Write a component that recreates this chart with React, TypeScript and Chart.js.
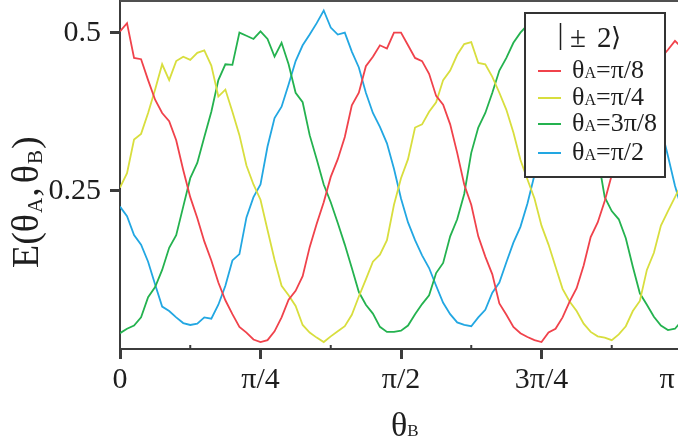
import React, { useEffect, useRef } from "react";
import { Chart, registerables } from "chart.js";

Chart.register(...registerables);

// θB sampled in steps of π/80 over [0, π]
const SAMPLE_COUNT = 81;
const thetaB: number[] = Array.from({ length: SAMPLE_COUNT }, (_, k) => (k * Math.PI) / (SAMPLE_COUNT - 1));

const seriesNames = ["π/8", "π/4", "3π/8", "π/2"];
const seriesColors = ["#f0424b", "#d8de3e", "#24b24f", "#22a7e2"];

const valuesPi8 = [
  0.502, 0.515, 0.46, 0.458, 0.425, 0.394, 0.373, 0.36, 0.33, 0.283,
  0.24, 0.207, 0.17, 0.14, 0.105, 0.077, 0.055, 0.035, 0.026, 0.015,
  0.011, 0.014, 0.028, 0.05, 0.078, 0.092, 0.115, 0.161, 0.198, 0.232,
  0.272, 0.3, 0.335, 0.385, 0.405, 0.447, 0.462, 0.48, 0.475, 0.5,
  0.5, 0.48, 0.46, 0.455, 0.435, 0.4, 0.386, 0.355, 0.31, 0.26,
  0.228, 0.178, 0.146, 0.118, 0.072, 0.054, 0.035, 0.025, 0.019, 0.014,
  0.011, 0.026, 0.032, 0.05, 0.075, 0.096, 0.132, 0.177, 0.2, 0.234,
  0.275, 0.305, 0.335, 0.37, 0.4, 0.43, 0.45, 0.46, 0.473, 0.487,
  0.476,
];

const valuesPi4 = [
  0.255, 0.278, 0.331, 0.34, 0.373, 0.41, 0.45, 0.425, 0.455, 0.462,
  0.457, 0.468, 0.472, 0.448, 0.399, 0.41, 0.375, 0.338, 0.29, 0.26,
  0.236, 0.188, 0.141, 0.1, 0.085, 0.068, 0.038, 0.026, 0.018, 0.011,
  0.02, 0.028, 0.036, 0.054, 0.083, 0.11, 0.138, 0.149, 0.172, 0.228,
  0.27, 0.3, 0.35, 0.355, 0.375, 0.39, 0.425, 0.44, 0.465, 0.482,
  0.485, 0.452, 0.45, 0.43, 0.405, 0.378, 0.342, 0.299, 0.268, 0.238,
  0.195, 0.165, 0.13, 0.095, 0.075, 0.06, 0.04, 0.027, 0.02, 0.018,
  0.014, 0.023, 0.036, 0.06, 0.076, 0.125, 0.152, 0.195, 0.218, 0.24,
  0.262,
];

const values3Pi8 = [
  0.025, 0.032, 0.037, 0.05, 0.082, 0.098, 0.125, 0.16, 0.18, 0.225,
  0.27, 0.294, 0.335, 0.375, 0.425, 0.45, 0.449, 0.5, 0.495, 0.49,
  0.502, 0.49, 0.462, 0.484, 0.45, 0.405, 0.39, 0.338, 0.3, 0.26,
  0.232, 0.199, 0.165, 0.128, 0.09, 0.07, 0.056, 0.035, 0.027, 0.027,
  0.029, 0.037, 0.055, 0.071, 0.085, 0.12, 0.136, 0.178, 0.205, 0.245,
  0.31, 0.35, 0.373, 0.405, 0.44, 0.46, 0.484, 0.5, 0.512, 0.52,
  0.515, 0.505, 0.49, 0.47, 0.445, 0.415, 0.38, 0.345, 0.305, 0.24,
  0.218, 0.205, 0.175, 0.13, 0.088, 0.07, 0.051, 0.037, 0.03, 0.032,
  0.045,
];

const valuesPi2 = [
  0.225, 0.21, 0.18, 0.165, 0.138, 0.102, 0.067, 0.06, 0.05, 0.041,
  0.038, 0.04, 0.05, 0.048, 0.07, 0.1, 0.14, 0.15, 0.208, 0.24,
  0.26, 0.32, 0.365, 0.383, 0.418, 0.455, 0.48, 0.497, 0.515, 0.535,
  0.508, 0.497, 0.5, 0.47, 0.445, 0.405, 0.373, 0.351, 0.325, 0.285,
  0.238, 0.2, 0.172, 0.148, 0.128, 0.1, 0.073, 0.055, 0.042, 0.038,
  0.036, 0.05, 0.062, 0.089, 0.105, 0.137, 0.168, 0.193, 0.23, 0.275,
  0.31, 0.35, 0.39, 0.425, 0.46, 0.48, 0.5, 0.52, 0.53, 0.52,
  0.51, 0.5, 0.48, 0.46, 0.44, 0.41, 0.38, 0.35, 0.305, 0.258,
  0.22,
];

const seriesValues = [valuesPi8, valuesPi4, values3Pi8, valuesPi2];

const xTickValues = [0, Math.PI / 4, Math.PI / 2, (3 * Math.PI) / 4, Math.PI];
const xTickLabels = ["0", "π/4", "π/2", "3π/4", "π\u2002\u2002"];
const xMinorTickValues = [Math.PI / 8, (3 * Math.PI) / 8, (5 * Math.PI) / 8, (7 * Math.PI) / 8];
const yTickValues = [0.25, 0.5];
const yTickLabels = ["0.25", "0.5"];
const legendTitle = ["|", "±", "2", "⟩"];

const SERIF = "'Liberation Serif', 'Times New Roman', 'DejaVu Serif', serif";
const AXIS_COLOR = "#3c3c3c";
const TEXT_COLOR = "#1e1e1e";

type Run = { t: string; size: number; dy?: number; gap?: number };

function drawRuns(ctx: CanvasRenderingContext2D, runs: Run[], x: number, y: number) {
  let cx = x;
  for (const r of runs) {
    ctx.font = `${r.size}px ${SERIF}`;
    ctx.fillText(r.t, cx, y + (r.dy || 0));
    cx += ctx.measureText(r.t).width + (r.gap || 0);
  }
}

const decorPlugin = {
  id: "decor",
  afterDraw(chart: any) {
    const { ctx, chartArea: a, scales } = chart;
    ctx.save();

    // top frame line
    ctx.strokeStyle = "#505050";
    ctx.lineWidth = 2;
    ctx.beginPath();
    ctx.moveTo(a.left, a.top);
    ctx.lineTo(a.right + 10, a.top);
    ctx.stroke();

    // minor inward ticks on x axis
    ctx.strokeStyle = AXIS_COLOR;
    ctx.lineWidth = 2;
    for (const v of xMinorTickValues) {
      const px = scales.x.getPixelForValue(v);
      ctx.beginPath();
      ctx.moveTo(px, a.bottom);
      ctx.lineTo(px, a.bottom - 4);
      ctx.stroke();
    }

    ctx.fillStyle = TEXT_COLOR;
    ctx.textBaseline = "alphabetic";
    ctx.textAlign = "left";

    // y-axis title E(θA,θB), rotated
    ctx.save();
    ctx.translate(38, 268);
    ctx.rotate(-Math.PI / 2);
    drawRuns(
      ctx,
      [
        { t: "E(θ", size: 38, gap: 1 },
        { t: "A", size: 21, dy: 4, gap: 1 },
        { t: ",", size: 38, gap: 4 },
        { t: "θ", size: 38, gap: 1 },
        { t: "B", size: 21, dy: 4, gap: 1 },
        { t: ")", size: 38 },
      ],
      0,
      0
    );
    ctx.restore();

    // x-axis title θB
    drawRuns(
      ctx,
      [
        { t: "θ", size: 34 },
        { t: "B", size: 17 },
      ],
      391,
      436
    );

    // legend box
    const lx = 525, ly = 13, lw = 140, lh = 164;
    ctx.fillStyle = "#ffffff";
    ctx.fillRect(lx, ly, lw, lh);
    ctx.strokeStyle = "#333333";
    ctx.lineWidth = 2;
    ctx.strokeRect(lx, ly, lw, lh);

    // legend title
    ctx.fillStyle = TEXT_COLOR;
    ctx.lineWidth = 1.5;
    ctx.strokeStyle = TEXT_COLOR;
    ctx.beginPath();
    ctx.moveTo(560.5, 23);
    ctx.lineTo(560.5, 50);
    ctx.stroke();
    ctx.font = `29px ${SERIF}`;
    ctx.fillText(legendTitle[1], 570, 47);
    ctx.fillText(legendTitle[2], 597, 47);
    ctx.font = `26px 'DejaVu Serif', ${SERIF}`;
    ctx.fillText(legendTitle[3], 611, 46);

    // legend entries
    const rowY = [71, 98, 124, 153];
    chart.data.datasets.forEach((ds: any, i: number) => {
      const y = rowY[i];
      ctx.strokeStyle = ds.borderColor;
      ctx.lineWidth = 2;
      ctx.beginPath();
      ctx.moveTo(538, y);
      ctx.lineTo(561, y);
      ctx.stroke();
      ctx.fillStyle = TEXT_COLOR;
      drawRuns(
        ctx,
        [
          { t: "θ", size: 26 },
          { t: "A", size: 16 },
          { t: "=" + seriesNames[i], size: 26 },
        ],
        572,
        y + 7
      );
    });

    ctx.restore();
  },
};

export default function App() {
  const canvasRef = useRef<HTMLCanvasElement | null>(null);

  useEffect(() => {
    const canvas = canvasRef.current;
    if (!canvas) return;
    const datasets = seriesValues.map((vals, i) => ({
      label: "θA=" + seriesNames[i],
      data: vals.map((v, k) => ({ x: thetaB[k], y: v })),
      borderColor: seriesColors[i],
      backgroundColor: seriesColors[i],
      borderWidth: 1.8,
      pointRadius: 0,
      tension: 0,
      fill: false,
    }));

    const chart = new Chart(canvas, {
      type: "line",
      data: { datasets },
      options: {
        responsive: false,
        animation: false,
        layout: { padding: { top: 1, right: 8, left: 0, bottom: 0 } },
        plugins: { legend: { display: false }, tooltip: { enabled: false } },
        scales: {
          x: {
            type: "linear",
            min: 0,
            max: Math.PI,
            afterBuildTicks: (s: any) => {
              s.ticks = xTickValues.map((v) => ({ value: v }));
            },
            afterFit: (s: any) => {
              s.height = 93;
              s.paddingLeft = 0;
              s.paddingRight = 0;
            },
            ticks: {
              autoSkip: false,
              maxRotation: 0,
              minRotation: 0,
              padding: 3,
              color: TEXT_COLOR,
              font: { family: SERIF, size: 30 },
              callback: (_v: any, i: number) => xTickLabels[i],
            },
            grid: {
              display: true,
              drawOnChartArea: false,
              drawTicks: true,
              tickLength: 10,
              tickWidth: 3,
              tickColor: AXIS_COLOR,
            },
            border: { display: true, color: AXIS_COLOR, width: 2 },
          },
          y: {
            type: "linear",
            min: 0,
            max: 0.55,
            afterBuildTicks: (s: any) => {
              s.ticks = yTickValues.map((v) => ({ value: v }));
            },
            afterFit: (s: any) => {
              s.width = 120;
              s.paddingTop = 0;
              s.paddingBottom = 0;
            },
            ticks: {
              padding: 9,
              color: TEXT_COLOR,
              font: { family: SERIF, size: 30 },
              callback: (_v: any, i: number) => yTickLabels[i],
            },
            grid: {
              display: true,
              drawOnChartArea: false,
              drawTicks: true,
              tickLength: 10,
              tickWidth: 3,
              tickColor: AXIS_COLOR,
            },
            border: { display: true, color: AXIS_COLOR, width: 2 },
          },
        },
      },
      plugins: [decorPlugin],
    });
    return () => chart.destroy();
  }, []);

  return (
    <div
      style={{
        position: "fixed",
        left: 0,
        top: 0,
        width: 678,
        height: 442,
        overflow: "hidden",
        background: "#ffffff",
      }}
    >
      <canvas ref={canvasRef} width={690} height={442} style={{ display: "block", width: 690, height: 442 }} />
    </div>
  );
}
